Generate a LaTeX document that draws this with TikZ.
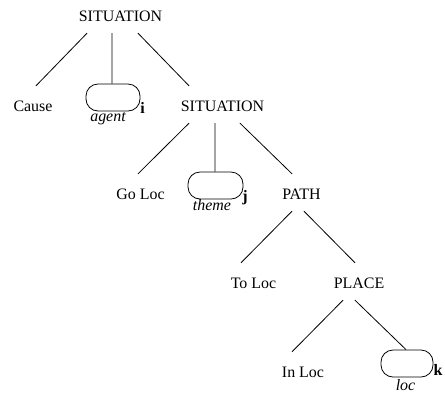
\documentclass[tikz,border=0pt]{standalone}
\usepackage{fontspec}
\setmainfont{Liberation Serif}
\begin{document}
\begin{tikzpicture}[x=1bp,y=-1bp,
  every node/.style={font=\fontsize{16}{19}\selectfont},
  cat/.style={anchor=base,text height=13bp,text depth=0pt,inner ysep=12bp,inner xsep=0pt},
  slot/.style={draw,line width=0.8pt,rounded corners=12bp,minimum width=54bp,minimum height=27bp,inner sep=0pt},
  role/.style={anchor=base,inner sep=0pt,font=\fontsize{16}{19}\selectfont\itshape},
  idx/.style={anchor=base,inner sep=0pt,font=\fontsize{16}{19}\selectfont\bfseries},
  branch/.style={line width=0.8pt}]
\useasboundingbox (0,0) rectangle (445,393);
% categories
\node[cat] (s1) at (120.5,21) {SITUATION};
\node[cat] (cause) at (33,111) {Cause};
\node[cat] (s2) at (222.5,111) {SITUATION};
\node[cat] (goloc) at (140.5,199) {Go Loc};
\node[cat] (path) at (301.5,199) {PATH};
\node[cat] (toloc) at (253.5,288) {To Loc};
\node[cat] (place) at (359,288) {PLACE};
\node[cat] (inloc) at (303,377) {In Loc};
% argument slots
\node[slot] (agent) at (113,97.5) {};
\node[slot,minimum width=55bp] (theme) at (215.5,185.5) {};
\node[slot,minimum width=52bp] (loc) at (407,363.5) {};
\node[role] (agentl) at (108,121) {agent};
\node[role] (themel) at (212,210) {theme};
\node[role] (locl) at (405.5,390) {loc};
\node[idx] (ii) at (142.5,113) {i};
\node[idx] (jj) at (245,201) {j};
\node[idx] (kk) at (438,375) {k};
% branches
\draw[branch] ([xshift=-33.5bp]s1.south) -- ([xshift=3bp]cause.north);
\draw[branch] ([xshift=-8.5bp]s1.south) -- ([xshift=-1bp]agent.north);
\draw[branch] ([xshift=17.5bp]s1.south) -- ([xshift=-33.5bp]s2.north);
\draw[branch] ([xshift=-33.5bp]s2.south) -- ([xshift=-2.5bp]goloc.north);
\draw[branch] ([xshift=-7.5bp]s2.south) -- ([xshift=-0.5bp]theme.north);
\draw[branch] ([xshift=17.5bp]s2.south) -- ([xshift=-9.5bp]path.north);
\draw[branch] ([xshift=-9.5bp]path.south) -- ([xshift=-12.5bp]toloc.north);
\draw[branch] ([xshift=2.5bp]path.south) -- ([xshift=-4bp]place.north);
\draw[branch] ([xshift=-16bp]place.south) -- ([xshift=-11bp]inloc.north);
\draw[branch] ([xshift=-4bp]place.south) -- ([xshift=-1bp]loc.north);
\end{tikzpicture}
\end{document}
